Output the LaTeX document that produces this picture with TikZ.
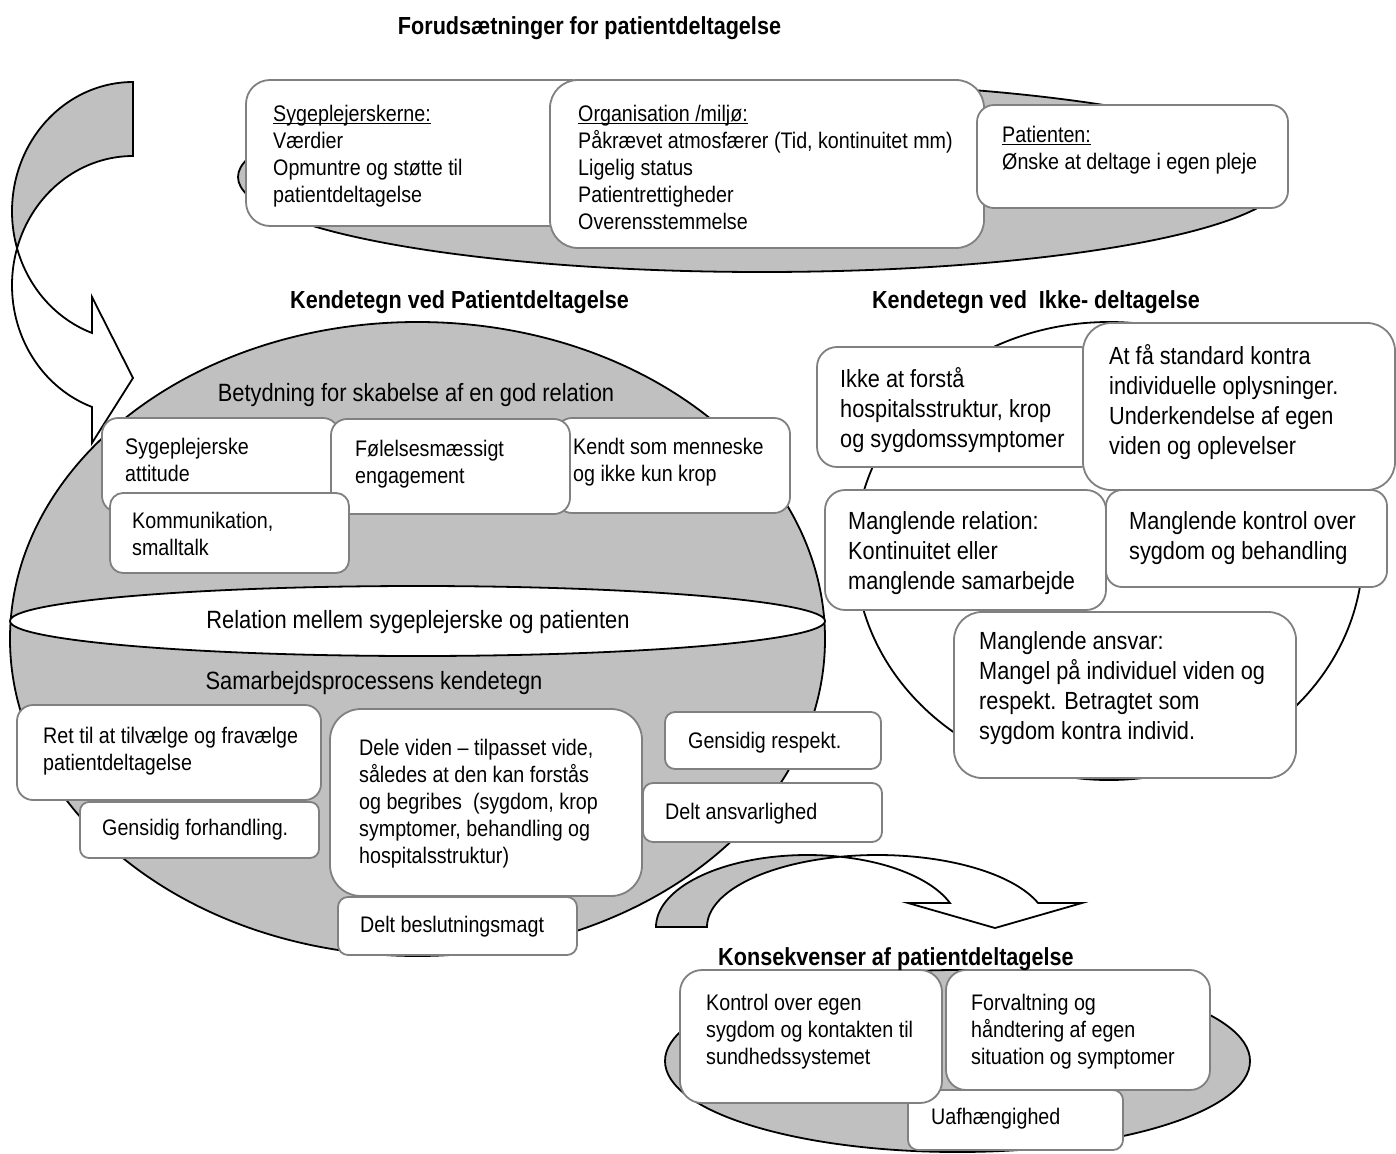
\documentclass[tikz,border=0pt]{standalone}
\usepackage{fontspec}
\setmainfont{Liberation Sans}[FakeStretch=0.875]
\newcommand\ulin[1]{\setbox0=\hbox{#1}\rlap{\rule[-2.6pt]{\wd0}{1.3pt}}\box0}
\definecolor{shade}{RGB}{192,192,192}
\definecolor{rim}{RGB}{128,128,128}

\begin{document}
\begin{tikzpicture}[x=1pt,y=-1pt,
  panel/.style={draw=black, line width=1.8pt, fill=shade},
  hole/.style={draw=black, line width=1.8pt, fill=white},
  card/.style={draw=rim, line width=1.8pt, fill=white, inner sep=0pt},
  txt/.style={anchor=north west, align=left, inner sep=0pt,
    font=\fontsize{22.5}{27}\selectfont, execute at begin node=\rule{0pt}{22pt}},
  txtl/.style={anchor=north west, align=left, inner sep=0pt,
    font=\fontsize{24.8}{30}\selectfont, execute at begin node=\rule{0pt}{24pt}},
  lab/.style={anchor=base, inner sep=0pt, font=\fontsize{25}{30}\selectfont},
  ttl/.style={anchor=base, inner sep=0pt, font=\fontsize{24.7}{30}\selectfont\bfseries},
  curve/.style={smooth, samples=40, variable=\t},
]
\useasboundingbox (0,0) rectangle (1396,1153);

% ---------- preconditions ----------
\draw[panel] (762,177) ellipse [x radius=524, y radius=95];
\node[card, rounded corners=24, minimum width=349, minimum height=146] (bSyg) at (420.5,153) {};
\node[card, rounded corners=28, minimum width=434, minimum height=168] (bOrg) at (767,164) {};
\node[card, rounded corners=17, minimum width=311, minimum height=103] (bPat) at (1132.5,156.5) {};
\node[txt] (tSyg) at (273,105) {\ulin{Sygeplejerskerne:}\\Værdier\\Opmuntre og støtte til\\patientdeltagelse};
\node[txt] (tOrg) at (578,105) {\ulin{Organisation /miljø:}\\Påkrævet atmosfærer (Tid, kontinuitet mm)\\Ligelig status\\Patientrettigheder\\Overensstemmelse};
\node[txt] (tPat) at (1002,126) {\ulin{Patienten:}\\Ønske at deltage i egen pleje};

% ---------- characteristics of participation ----------
\draw[panel] (417.5,639) ellipse [x radius=407.5, y radius=317];
\draw[hole] (417.5,621) ellipse [x radius=407.5, y radius=35];
\node[lab] (lBet) at (416,401) {Betydning for skabelse af en god relation};
\node[lab] (lRel) at (418,628) {Relation mellem sygeplejerske og patienten};
\node[lab] (lSam) at (374,689) {Samarbejdsprocessens kendetegn};

% curved arrow on the left: two equal ellipses (centres 74 apart) bound the band;
% shaded back face above their crossing, white front face with the head below it
\path[panel] plot[curve, domain=270:163.4] ({133+121*cos(\t)},{211.3+129.3*sin(\t)})
  -- plot[curve, domain=196.6:270] ({133+121*cos(\t)},{285.3+129.3*sin(\t)}) -- cycle;
\path[hole] plot[curve, domain=196.6:109.8] ({133+121*cos(\t)},{285.3+129.3*sin(\t)})
  -- (92,443) -- (133,378) -- (92,297)
  -- plot[curve, domain=109.8:163.4] ({133+121*cos(\t)},{211.3+129.3*sin(\t)}) -- cycle;

\node[card, rounded corners=16, minimum width=237, minimum height=94] (bAtt) at (220.5,465) {};
\node[card, rounded corners=16, minimum width=234, minimum height=95] (bKendt) at (673,465.5) {};
\node[card, rounded corners=16, minimum width=239, minimum height=95] (bFol) at (450.5,466.5) {};
\node[card, rounded corners=13, minimum width=239, minimum height=80] (bKomm) at (229.5,533) {};
\node[txt] (tAtt) at (125,438) {Sygeplejerske\\attitude};
\node[txt] (tFol) at (355,440) {Følelsesmæssigt\\engagement};
\node[txt] (tKendt) at (573,438) {Kendt som menneske\\og ikke kun krop};
\node[txt] (tKomm) at (132,512) {Kommunikation,\\smalltalk};

\node[card, rounded corners=16, minimum width=304, minimum height=95] (bRet) at (169,752.5) {};
\node[card, rounded corners=9, minimum width=239, minimum height=56] (bForh) at (199.5,830) {};
\node[card, rounded corners=31, minimum width=312, minimum height=187] (bDele) at (486,802.5) {};
\node[card, rounded corners=10, minimum width=216, minimum height=57] (bResp) at (773,740.5) {};
\node[card, rounded corners=10, minimum width=239, minimum height=59] (bAnsv) at (762.5,812.5) {};
\node[card, rounded corners=10, minimum width=239, minimum height=58] (bBesl) at (457.5,926) {};
\node[txt] (tRet) at (43,727) {Ret til at tilvælge og fravælge\\patientdeltagelse};
\node[txt] (tForh) at (102,813) {Gensidig forhandling.};
\node[txt] (tDele) at (359,739) {Dele viden – tilpasset vide,\\således at den kan forstås\\og begribes\ \ (sygdom, krop\\symptomer, behandling og\\hospitalsstruktur)};
\node[txt] (tResp) at (688,726) {Gensidig respekt.};
\node[txt] (tAnsv) at (665,797) {Delt ansvarlighed};
\node[txt] (tBesl) at (360,910) {Delt beslutningsmagt};

% ---------- characteristics of non-participation ----------
\draw[hole] (1109,551) ellipse [x radius=254, y radius=229];
\node[card, rounded corners=20, minimum width=283, minimum height=120] (bIkke) at (958.5,407) {};
\node[card, rounded corners=28, minimum width=312, minimum height=167] (bStd) at (1239,406.5) {};
\node[card, rounded corners=20, minimum width=281, minimum height=120] (bRel) at (965.5,550) {};
\node[card, rounded corners=16, minimum width=281, minimum height=97] (bKtrl) at (1246.5,538.5) {};
\node[card, rounded corners=28, minimum width=342, minimum height=166] (bMans) at (1125,695) {};
\node[txtl] (tIkke) at (840,367) {Ikke at forstå\\hospitalsstruktur, krop\\og sygdomssymptomer};
\node[txtl] (tStd) at (1109,344) {At få standard kontra\\individuelle oplysninger.\\Underkendelse af egen\\viden og oplevelser};
\node[txtl] (tRel) at (848,511) {Manglende relation:\\Kontinuitet eller\\manglende samarbejde};
\node[txtl] (tKtrl) at (1129,511) {Manglende kontrol over\\sygdom og behandling};
\node[txtl] (tMans) at (979,631) {Manglende ansvar:\\Mangel på individuel viden og\\respekt. Betragtet som\\sygdom kontra individ.};

% ---------- curved arrow towards the consequences ----------
\path[panel] plot[curve, domain=180:282.6] ({807.3+151.3*cos(\t)},{927+72*sin(\t)})
  -- plot[curve, domain=257.4:180] ({877.4+170.4*cos(\t)},{927+72*sin(\t)}) -- cycle;
\path[hole] plot[curve, domain=257.4:340.5] ({877.4+170.4*cos(\t)},{927+72*sin(\t)})
  -- (1082,903) -- (995,928) -- (908,903)
  -- plot[curve, domain=340.5:282.6] ({807.3+151.3*cos(\t)},{927+72*sin(\t)}) -- cycle;

% ---------- consequences ----------
\draw[panel] (957.5,1061) ellipse [x radius=292.5, y radius=91];
\node[card, rounded corners=10, minimum width=215, minimum height=60] (bUaf) at (1015.5,1120) {};
\node[card, rounded corners=20, minimum width=264, minimum height=120] (bForv) at (1078,1030) {};
\node[card, rounded corners=22, minimum width=262, minimum height=133] (bEgen) at (811,1036.5) {};
\node[txt] (tEgen) at (706,994) {Kontrol over egen\\sygdom og kontakten til\\sundhedssystemet};
\node[txt] (tForv) at (971,994) {Forvaltning og\\håndtering af egen\\situation og symptomer};
\node[txt] (tUaf) at (931,1102) {Uafhængighed};

% ---------- headings ----------
\node[ttl] (hFor) at (589.5,35) {Forudsætninger for patientdeltagelse};
\node[ttl] (hKP) at (459.5,308) {Kendetegn ved Patientdeltagelse};
\node[ttl] (hKI) at (1036,308) {Kendetegn ved\ \ Ikke- deltagelse};
\node[ttl] (hKon) at (896,965) {Konsekvenser af patientdeltagelse};
\end{tikzpicture}
\end{document}
